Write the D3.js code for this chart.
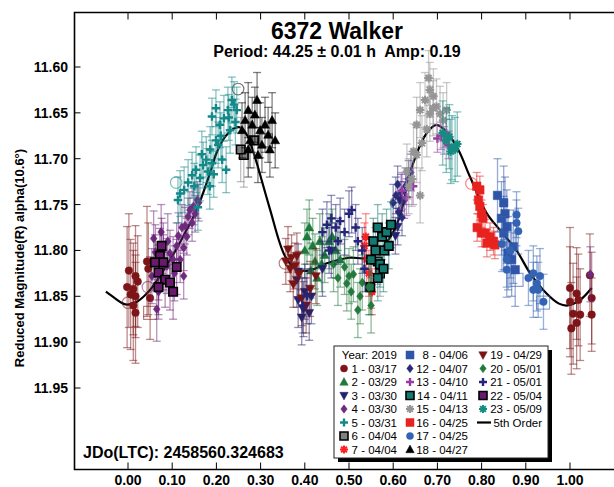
<!DOCTYPE html>
<html>
<head>
<meta charset="utf-8">
<script src="https://cdn.jsdelivr.net/npm/d3@7"></script>
<style>
  body { margin: 0; background: #fff; }
  svg { display: block; font-family: "Liberation Sans", Arial, sans-serif; }
</style>
</head>
<body>
<svg id="chart" width="614" height="487"></svg>
<script>
// ---- data (phase, reduced mag, error) ----
var sessionNames = ["1 - 03/17", "2 - 03/29", "3 - 03/30", "4 - 03/30", "5 - 03/31", "6 - 04/04", "7 - 04/04",
  "8 - 04/06", "12 - 04/07", "13 - 04/10", "14 - 04/11", "15 - 04/13", "16 - 04/25", "17 - 04/25", "18 - 04/27",
  "19 - 04/29", "20 - 05/01", "21 - 05/01", "22 - 05/04", "23 - 05/09"];
var sessionColors = ["#7d1518", "#1d7a3a", "#22226e", "#6e2a7e", "#14898a", "#7f7f7f", "#ff2020",
  "#2f55a8", "#2a2a78", "#9a3aa4", "#127a72", "#959595", "#e8231f", "#3563b3", "#000000",
  "#7a1414", "#247a3c", "#242478", "#6a1a6e", "#148c82"];
var sessionShapes = ["circle", "triUp", "triDown", "diamond", "plus", "squareB", "star",
  "square", "diamond", "plus", "squareB", "star", "square", "circle", "triUp",
  "triDown", "diamond", "plus", "squareB", "star"];

var s1 = [[0.002, 11.822, 0.062], [0.017, 11.828, 0.055], [0.022, 11.834, 0.05], [-0.002, 11.840, 0.066],
  [0.012, 11.842, 0.05], [0.017, 11.850, 0.045], [0.012, 11.860, 0.06], [0.017, 11.868, 0.055],
  [0.043, 11.812, 0.06], [0.046, 11.820, 0.05], [0.050, 11.852, 0.045], [0.006, 11.848, 0.06],
  [1.000, 11.841, 0.066], [1.000, 11.856, 0.06], [1.015, 11.847, 0.05], [1.019, 11.854, 0.05],
  [1.007, 11.869, 0.055], [1.023, 11.870, 0.05], [1.015, 11.879, 0.05], [1.045, 11.827, 0.045],
  [1.049, 11.852, 0.05], [1.049, 11.870, 0.04], [1.003, 11.885, 0.05]];
var s2 = [[0.400, 11.800, 0.03], [0.405, 11.785, 0.03], [0.410, 11.775, 0.03], [0.418, 11.795, 0.03],
  [0.423, 11.812, 0.03], [0.428, 11.830, 0.03], [0.434, 11.790, 0.03], [0.445, 11.805, 0.03],
  [0.455, 11.790, 0.03], [0.470, 11.800, 0.03], [0.480, 11.810, 0.03], [0.414, 11.822, 0.03],
  [0.438, 11.815, 0.03], [0.462, 11.785, 0.03]];
var s3 = [[0.385, 11.854, 0.03], [0.397, 11.864, 0.03], [0.393, 11.873, 0.03], [0.382, 11.832, 0.03],
  [0.385, 11.823, 0.03], [0.400, 11.845, 0.03], [0.410, 11.868, 0.03], [0.415, 11.850, 0.03],
  [0.440, 11.820, 0.03], [0.460, 11.800, 0.03], [0.610, 11.774, 0.02], [0.615, 11.745, 0.02], [0.605, 11.784, 0.02]];
var s4 = [[0.058, 11.787, 0.03], [0.054, 11.828, 0.03], [0.065, 11.864, 0.035], [0.069, 11.845, 0.03],
  [0.126, 11.828, 0.025], [0.126, 11.797, 0.025], [0.114, 11.784, 0.025], [0.129, 11.773, 0.02],
  [0.136, 11.763, 0.02], [0.140, 11.756, 0.02], [0.148, 11.752, 0.02], [0.095, 11.803, 0.025],
  [0.102, 11.810, 0.025], [0.088, 11.817, 0.03], [0.110, 11.795, 0.025], [0.080, 11.800, 0.03],
  [0.157, 11.745, 0.02], [0.062, 11.802, 0.03], [0.075, 11.780, 0.03], [0.090, 11.790, 0.03],
  [0.118, 11.810, 0.025], [0.133, 11.785, 0.02], [0.145, 11.770, 0.02], [0.152, 11.760, 0.02],
  [0.160, 11.748, 0.02], [0.105, 11.825, 0.03], [0.122, 11.775, 0.025], [1.046, 11.826, 0.03]];
var s5 = [[0.113, 11.745, 0.025], [0.127, 11.734, 0.025], [0.136, 11.726, 0.025], [0.145, 11.718, 0.025],
  [0.154, 11.712, 0.025], [0.158, 11.753, 0.025], [0.163, 11.721, 0.025], [0.170, 11.707, 0.025],
  [0.177, 11.701, 0.025], [0.181, 11.714, 0.025], [0.186, 11.690, 0.025], [0.194, 11.717, 0.025],
  [0.199, 11.680, 0.025], [0.204, 11.685, 0.025], [0.208, 11.663, 0.025], [0.213, 11.701, 0.025],
  [0.217, 11.656, 0.025], [0.222, 11.712, 0.025], [0.226, 11.647, 0.025], [0.231, 11.669, 0.025],
  [0.235, 11.636, 0.025], [0.240, 11.641, 0.025], [0.246, 11.647, 0.025], [0.199, 11.645, 0.02],
  [0.190, 11.654, 0.02], [0.118, 11.738, 0.025], [0.150, 11.730, 0.025], [0.167, 11.695, 0.025],
  [0.190, 11.705, 0.025], [0.210, 11.675, 0.025], [0.228, 11.655, 0.025], [0.243, 11.660, 0.025], [0.185, 11.730, 0.025]];
var s6 = [[0.262, 11.696, 0.035], [0.255, 11.690, 0.035], [0.285, 11.680, 0.03], [0.565, 11.812, 0.025], [0.570, 11.825, 0.025]];
var s7 = [[0.535, 11.795, 0.025], [0.540, 11.810, 0.025], [0.545, 11.825, 0.025], [0.552, 11.845, 0.025],
  [0.538, 11.785, 0.025], [0.550, 11.838, 0.025]];
var s8 = [[0.836, 11.740, 0.04], [0.850, 11.748, 0.04], [0.853, 11.760, 0.04], [0.857, 11.774, 0.04],
  [0.850, 11.781, 0.04], [0.872, 11.796, 0.04], [0.868, 11.810, 0.04], [0.876, 11.821, 0.04],
  [0.860, 11.803, 0.04], [0.845, 11.765, 0.04]];
var s12 = [[0.600, 11.748, 0.02], [0.606, 11.740, 0.02], [0.612, 11.758, 0.02], [0.618, 11.737, 0.02],
  [0.625, 11.745, 0.02], [0.620, 11.764, 0.02], [0.628, 11.730, 0.02], [0.635, 11.722, 0.02],
  [0.640, 11.715, 0.02], [0.610, 11.728, 0.02]];
var s13 = [[0.620, 11.735, 0.02], [0.630, 11.742, 0.02], [0.645, 11.730, 0.02], [0.708, 11.675, 0.015],
  [0.715, 11.680, 0.015], [0.720, 11.672, 0.015], [0.725, 11.685, 0.015], [0.700, 11.678, 0.015]];
var s14 = [[0.555, 11.790, 0.025], [0.560, 11.800, 0.025], [0.565, 11.775, 0.025], [0.570, 11.815, 0.025],
  [0.575, 11.785, 0.025], [0.580, 11.800, 0.025], [0.585, 11.780, 0.025], [0.590, 11.795, 0.025],
  [0.595, 11.772, 0.025], [0.565, 11.830, 0.025], [0.578, 11.820, 0.025], [0.550, 11.810, 0.025], [0.548, 11.840, 0.03]];
var s15 = [[0.631, 11.714, 0.03], [0.646, 11.692, 0.03], [0.653, 11.663, 0.03], [0.661, 11.647, 0.03],
  [0.672, 11.636, 0.03], [0.683, 11.625, 0.03], [0.691, 11.632, 0.03], [0.698, 11.643, 0.03],
  [0.706, 11.651, 0.03], [0.713, 11.658, 0.03], [0.683, 11.651, 0.03], [0.661, 11.740, 0.03],
  [0.653, 11.696, 0.03], [0.642, 11.722, 0.03], [0.676, 11.668, 0.03], [0.665, 11.683, 0.03],
  [0.721, 11.647, 0.03], [0.680, 11.612, 0.03], [0.690, 11.645, 0.03], [0.635, 11.730, 0.03]];
var s16 = [[0.789, 11.730, 0.015], [0.796, 11.734, 0.015], [0.793, 11.745, 0.015], [0.796, 11.752, 0.015],
  [0.800, 11.760, 0.015], [0.803, 11.765, 0.015], [0.800, 11.781, 0.015], [0.808, 11.781, 0.015],
  [0.819, 11.785, 0.015], [0.827, 11.790, 0.015], [0.830, 11.794, 0.015], [0.812, 11.792, 0.015], [0.790, 11.775, 0.015]];
var s17 = [[0.879, 11.761, 0.025], [0.879, 11.770, 0.025], [0.883, 11.779, 0.025], [0.857, 11.810, 0.03],
  [0.857, 11.821, 0.03], [0.906, 11.830, 0.03], [0.917, 11.825, 0.03], [0.925, 11.836, 0.03],
  [0.932, 11.828, 0.03], [0.917, 11.843, 0.03], [0.928, 11.843, 0.03], [0.940, 11.856, 0.03],
  [0.846, 11.793, 0.03], [0.865, 11.800, 0.03]];
var s18 = [[0.258, 11.669, 0.03], [0.265, 11.658, 0.03], [0.272, 11.647, 0.03], [0.276, 11.680, 0.03],
  [0.281, 11.663, 0.03], [0.287, 11.652, 0.03], [0.292, 11.636, 0.03], [0.299, 11.669, 0.03],
  [0.303, 11.685, 0.03], [0.310, 11.663, 0.03], [0.317, 11.674, 0.03], [0.321, 11.690, 0.03],
  [0.326, 11.658, 0.03], [0.333, 11.680, 0.03], [0.294, 11.696, 0.03], [0.272, 11.690, 0.03]];
var s19 = [[0.362, 11.799, 0.025], [0.367, 11.820, 0.025], [0.378, 11.817, 0.025], [0.382, 11.806, 0.025],
  [0.374, 11.837, 0.025], [0.393, 11.852, 0.03], [0.357, 11.812, 0.025], [0.387, 11.826, 0.025],
  [0.403, 11.860, 0.03], [0.412, 11.842, 0.03], [0.425, 11.828, 0.03], [0.370, 11.808, 0.025]];
var s20 = [[0.490, 11.818, 0.03], [0.495, 11.836, 0.03], [0.505, 11.845, 0.03], [0.510, 11.826, 0.03],
  [0.520, 11.865, 0.03], [0.525, 11.850, 0.03], [0.530, 11.835, 0.03], [0.545, 11.840, 0.03],
  [0.550, 11.860, 0.03], [0.475, 11.830, 0.03], [0.465, 11.815, 0.03], [0.500, 11.828, 0.03]];
var s21 = [[0.440, 11.780, 0.025], [0.450, 11.772, 0.025], [0.460, 11.765, 0.025], [0.470, 11.775, 0.025],
  [0.480, 11.768, 0.025], [0.490, 11.780, 0.025], [0.500, 11.760, 0.025], [0.506, 11.756, 0.025],
  [0.515, 11.775, 0.025], [0.520, 11.790, 0.025], [0.530, 11.800, 0.025], [0.535, 11.820, 0.025],
  [0.475, 11.790, 0.025], [0.455, 11.800, 0.025], [0.395, 11.860, 0.03], [0.405, 11.850, 0.03]];
var s22 = [[0.076, 11.795, 0.03], [0.072, 11.806, 0.03], [0.080, 11.813, 0.03], [0.069, 11.824, 0.03],
  [0.084, 11.832, 0.03], [0.095, 11.835, 0.03], [0.102, 11.845, 0.03], [0.110, 11.818, 0.03],
  [0.061, 11.813, 0.03], [0.069, 11.840, 0.03]];
var s23 = [[0.720, 11.680, 0.035], [0.727, 11.676, 0.035], [0.733, 11.688, 0.035], [0.740, 11.690, 0.035],
  [0.745, 11.684, 0.035], [0.730, 11.692, 0.035], [0.712, 11.672, 0.035]];
var sessions = [s1, s2, s3, s4, s5, s6, s7, s8, s12, s13, s14, s15, s16, s17, s18, s19, s20, s21, s22, s23];

// larger hollow markers (session index, phase, mag)
var openMarks = [[4, 0.109, 11.726], [14, 0.249, 11.624], [15, 0.355, 11.814], [0, 0.0, 11.857],
  [0, 0.05, 11.868], [3, 0.045, 11.84], [12, 0.777, 11.727], [7, 0.879, 11.832], [13, 0.939, 11.857],
  [8, 0.606, 11.748], [14, 0.312, 11.68]];
var openShapes = ["circle", "circle", "circle", "circle", "square", "circle", "circle", "square", "square", "circle", "square"];

// 5th order fit
var fitCurve = [[-0.05, 11.845], [-0.03, 11.852], [-0.011, 11.858], [0.0, 11.859], [0.02, 11.856],
  [0.05, 11.843], [0.08, 11.822], [0.11, 11.798], [0.13, 11.78], [0.155, 11.756], [0.186, 11.715],
  [0.2, 11.694], [0.22, 11.676], [0.24, 11.667], [0.255, 11.666], [0.27, 11.675], [0.287, 11.698],
  [0.32, 11.753], [0.355, 11.806], [0.38, 11.82], [0.41, 11.822], [0.45, 11.814], [0.5, 11.808],
  [0.54, 11.808], [0.575, 11.797], [0.6, 11.78], [0.615, 11.763], [0.645, 11.705], [0.676, 11.672],
  [0.698, 11.663], [0.721, 11.671], [0.747, 11.69], [0.774, 11.72], [0.811, 11.759], [0.842, 11.778],
  [0.879, 11.80], [0.91, 11.825], [0.947, 11.847], [0.975, 11.858], [0.995, 11.86], [1.023, 11.854], [1.049, 11.841]];

var xTicks = [0, 0.1, 0.2, 0.3, 0.4, 0.5, 0.6, 0.7, 0.8, 0.9, 1.0];
var yTicks = [11.60, 11.65, 11.70, 11.75, 11.80, 11.85, 11.90, 11.95];

// ---- layout ----
var svg = d3.select("#chart");
var frameL = 74.5, frameT = 12.5, frameB = 469.5, frameR = 620;
var x = d3.scaleLinear().domain([0, 1]).range([128, 570]);
var y = d3.scaleLinear().domain([11.60, 11.95]).range([67, 388]);

function shapePath(type, s) {
  var h = s / 2;
  if (type == "circle") return d3.symbol().type(d3.symbolCircle).size(s * s * 0.62)();
  if (type == "square" || type == "squareB") return "M" + (-h) + "," + (-h) + "h" + s + "v" + s + "h" + (-s) + "Z";
  if (type == "diamond") return "M0," + (-h * 1.05) + "L" + (h * 0.8) + ",0L0," + (h * 1.05) + "L" + (-h * 0.8) + ",0Z";
  if (type == "triUp") return "M0," + (-h * 1.1) + "L" + (h * 1.05) + "," + (h * 0.8) + "L" + (-h * 1.05) + "," + (h * 0.8) + "Z";
  if (type == "triDown") return "M0," + (h * 1.1) + "L" + (h * 1.05) + "," + (-h * 0.8) + "L" + (-h * 1.05) + "," + (-h * 0.8) + "Z";
  if (type == "plus") return "M" + (-h) + ",0H" + h + "M0," + (-h) + "V" + h;
  if (type == "star") {
    var d = h * 0.72;
    return "M" + (-h) + ",0H" + h + "M0," + (-h) + "V" + h + "M" + (-d) + "," + (-d) + "L" + d + "," + d + "M" + (-d) + "," + d + "L" + d + "," + (-d);
  }
  return "";
}

function drawMarker(g, type, color, cx, cy, s) {
  var p = g.append("path").attr("d", shapePath(type, s)).attr("transform", "translate(" + cx + "," + cy + ")");
  if (type == "plus" || type == "star") {
    p.attr("fill", "none").attr("stroke", color).attr("stroke-width", type == "plus" ? 2.4 : 2);
  } else if (type == "squareB") {
    p.attr("fill", color).attr("stroke", "#000").attr("stroke-width", 1.6);
  } else {
    p.attr("fill", color).attr("stroke", color).attr("stroke-width", 0.5);
  }
  return p;
}

// fit curve (under the points)
var line = d3.line().x(function(d) { return x(d[0]); }).y(function(d) { return y(d[1]); })
  .curve(d3.curveCatmullRom.alpha(0.5));
svg.append("path").datum(fitCurve).attr("d", line)
  .attr("fill", "none").attr("stroke", "#000").attr("stroke-width", 2.2);

// open (hollow) markers
var openG = svg.append("g");
openMarks.forEach(function(m, i) {
  var c = sessionColors[m[0]];
  var t = openShapes[i];
  openG.append("path").attr("d", shapePath(t, 13))
    .attr("transform", "translate(" + x(m[1]) + "," + y(m[2]) + ")")
    .attr("fill", "none").attr("stroke", c).attr("stroke-opacity", 0.55).attr("stroke-width", 1.2);
});

// sessions: error bars then markers
sessions.forEach(function(data, si) {
  var c = sessionColors[si];
  var g = svg.append("g");
  var eb = g.append("g").attr("stroke", c).attr("stroke-opacity", 0.5).attr("stroke-width", 1.3).attr("fill", "none");
  data.forEach(function(d) {
    var px = x(d[0]), y1 = y(d[1] - d[2]), y2 = y(d[1] + d[2]);
    eb.append("line").attr("x1", px).attr("x2", px).attr("y1", y1).attr("y2", y2);
    eb.append("line").attr("x1", px - 4).attr("x2", px + 4).attr("y1", y1).attr("y2", y1);
    eb.append("line").attr("x1", px - 4).attr("x2", px + 4).attr("y1", y2).attr("y2", y2);
  });
  data.forEach(function(d) {
    drawMarker(g, sessionShapes[si], c, x(d[0]), y(d[1]), 8.5);
  });
});

// frame and axes
var axG = svg.append("g").attr("stroke", "#000").attr("fill", "none");
axG.append("path").attr("d", "M" + frameR + "," + frameT + "H" + frameL + "V" + frameB + "H" + frameR).attr("stroke-width", 1.6);
xTicks.forEach(function(t) {
  axG.append("line").attr("x1", x(t)).attr("x2", x(t)).attr("y1", frameB).attr("y2", frameB - 7).attr("stroke-width", 1);
  axG.append("line").attr("x1", x(t)).attr("x2", x(t)).attr("y1", frameT).attr("y2", frameT + 7).attr("stroke-width", 1);
});
yTicks.forEach(function(t) {
  axG.append("line").attr("x1", frameL).attr("x2", frameL + 6).attr("y1", y(t)).attr("y2", y(t)).attr("stroke-width", 1);
});

svg.append("g").selectAll("text").data(xTicks).join("text")
  .attr("x", function(d) { return x(d); }).attr("y", 485)
  .attr("text-anchor", "middle").attr("font-size", 14).attr("font-weight", "bold")
  .text(function(d) { return d3.format(".2f")(d); });
svg.append("g").selectAll("text").data(yTicks).join("text")
  .attr("x", 68).attr("y", function(d) { return y(d) + 5; })
  .attr("text-anchor", "end").attr("font-size", 14).attr("font-weight", "bold")
  .text(function(d) { return d3.format(".2f")(d); });

svg.append("text").attr("transform", "translate(24,258) rotate(-90)")
  .attr("text-anchor", "middle").attr("font-size", 13).attr("font-weight", "bold")
  .text("Reduced Magnitude(R) alpha(10.6°)");

svg.append("text").attr("x", 337).attr("y", 39).attr("text-anchor", "middle")
  .attr("font-size", 23).attr("font-weight", "bold").text("6372 Walker");
svg.append("text").attr("x", 337).attr("y", 57).attr("text-anchor", "middle")
  .attr("font-size", 16).attr("font-weight", "bold").text("Period: 44.25 \u00b1 0.01 h  Amp: 0.19")
  .attr("xml:space", "preserve").style("white-space", "pre");
svg.append("text").attr("x", 83).attr("y", 458).attr("font-size", 16).attr("font-weight", "bold")
  .text("JDo(LTC): 2458560.324683");

// legend
var lg = svg.append("g");
var lx = 334, ly = 346, lw = 214, lh = 112;
lg.append("rect").attr("x", lx + 4).attr("y", ly + 4).attr("width", lw).attr("height", lh).attr("fill", "#000");
lg.append("rect").attr("x", lx).attr("y", ly).attr("width", lw).attr("height", lh).attr("fill", "#fff")
  .attr("stroke", "#222").attr("stroke-width", 1);
var colSym = [344, 410, 483], colEnd = [397, 468, 542];
var rowY = function(r) { return ly + 9 + r * 13.5; };
var legendItems = [{ label: "Year: 2019" }];
sessionNames.forEach(function(n, i) { legendItems.push({ label: n, si: i }); });
legendItems.push({ label: "5th Order", fit: true });
legendItems.forEach(function(it, k) {
  var col = Math.floor(k / 8), row = k % 8;
  var cy = rowY(row);
  if (it.si !== undefined) drawMarker(lg, sessionShapes[it.si], sessionColors[it.si], colSym[col], cy, 8);
  if (it.fit) lg.append("line").attr("x1", 477).attr("x2", 491).attr("y1", cy).attr("y2", cy)
    .attr("stroke", "#000").attr("stroke-width", 2.2);
  lg.append("text").attr("x", colEnd[col]).attr("y", cy + 4).attr("text-anchor", "end")
    .attr("font-size", 11.5).text(it.label);
});
</script>
</body>
</html>
